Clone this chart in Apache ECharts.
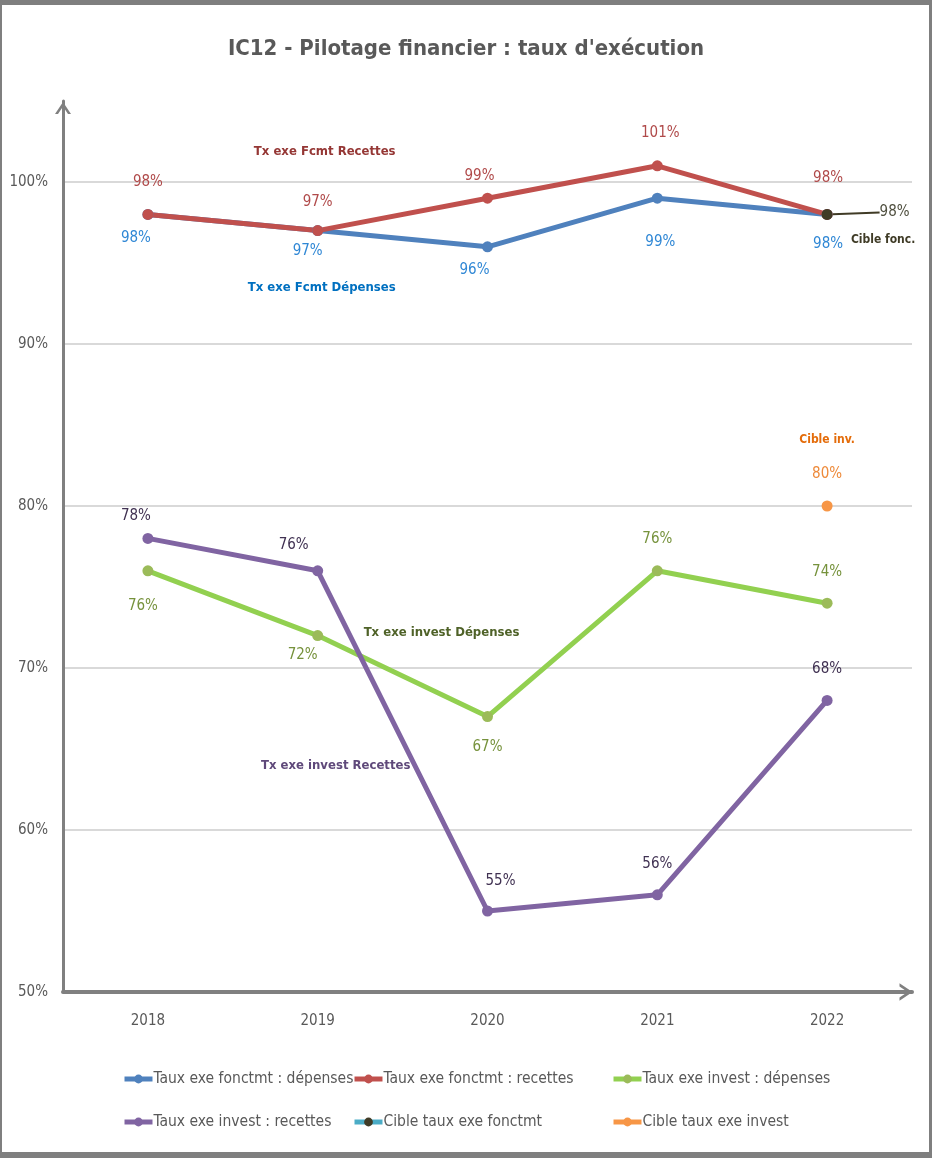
<!DOCTYPE html>
<html>
<head>
<meta charset="utf-8">
<script src="https://cdn.jsdelivr.net/npm/echarts@6/dist/echarts.min.js"></script>
<style>
  html, body { margin: 0; padding: 0; background: #fff; }
  #wrap { position: relative; width: 932px; height: 1158px; }
  #chart { position: absolute; left: 0; top: 0; width: 932px; height: 1158px; }
  #frame {
    position: absolute; left: 0; top: 0; width: 932px; height: 1158px;
    box-sizing: border-box; pointer-events: none;
    border-style: solid; border-color: #7f7f7f;
    border-width: 5px 3px 6px 2px;
  }
</style>
</head>
<body>
<div id="wrap">
  <div id="chart"></div>
  <div id="frame"></div>
</div>
<script>
const years = ['2018', '2019', '2020', '2021', '2022']
const fonctDepenses = [98, 97, 96, 99, 98]
const fonctRecettes = [98, 97, 99, 101, 98]
const investDepenses = [76, 72, 67, 76, 74]
const investRecettes = [78, 76, 55, 56, 68]
const cibleFonct = [null, null, null, null, 98]
const cibleInvest = [null, null, null, null, 80]
const yTicks = [50, 60, 70, 80, 90, 100]

const names = [
  'Taux exe fonctmt : dépenses',
  'Taux exe fonctmt : recettes',
  'Taux exe invest : dépenses',
  'Taux exe invest : recettes',
  'Cible taux exe fonctmt',
  'Cible taux exe invest'
]

const FONT = "'Liberation Sans Narrow', 'DejaVu Sans Condensed', sans-serif"

// label placement per point: [position, distance, x shift]
const labelPos = {
  fd: [['bottom', 11, -12], ['bottom', 8, -10], ['bottom', 10, -13], ['bottom', 31, 3], ['bottom', 17, 1]],
  fr: [['top', 19, 0], ['top', 15, 0], ['top', 9, -8], ['top', 20, 3], ['top', 23, 1]],
  id: [['bottom', 22, -5], ['bottom', 7, -15], ['bottom', 18, 0], ['top', 19, 0], ['top', 18, 0]],
  ir: [['top', 9, -12], ['top', 13, -24], ['top', 17, 13], ['top', 18, 0], ['top', 18, 0]]
}

function withLabels(values, pos) {
  return values.map((v, i) => ({
    value: v,
    label: { position: pos[i][0], distance: pos[i][1], offset: [pos[i][2], 0] }
  }))
}

function note(text, coord, color, dx, size) {
  return {
    name: text,
    coord: coord,
    label: { color: color, offset: [dx || 0, 0], fontSize: size || 13 }
  }
}

function notes(items) {
  return {
    symbolSize: 0,
    silent: true,
    label: {
      show: true, position: 'inside', formatter: '{b}',
      fontFamily: FONT, fontWeight: 'bold', fontSize: 13
    },
    data: items
  }
}

function lineSeries(name, data, lineColor, dotColor, labelColor, width) {
  return {
    name: name,
    type: 'line',
    data: data,
    symbol: 'circle',
    symbolSize: 11,
    connectNulls: false,
    lineStyle: { color: lineColor, width: width },
    itemStyle: { color: dotColor },
    label: {
      show: true,
      formatter: p => p.value == null ? '' : p.value + '%',
      color: labelColor,
      fontFamily: FONT,
      fontSize: 15
    },
    emphasis: { disabled: true }
  }
}

const chart = echarts.init(document.getElementById('chart'))

const sFd = lineSeries(names[0], withLabels(fonctDepenses, labelPos.fd), '#4f81bd', '#4f81bd', '#2f87d5', 5)
sFd.markPoint = notes([note('Tx exe Fcmt Dépenses', ['2019', 93.45], '#0070c0', 4)])

const sFr = lineSeries(names[1], withLabels(fonctRecettes, labelPos.fr), '#c0504d', '#c0504d', '#b04a4a', 5)
sFr.markPoint = notes([note('Tx exe Fcmt Recettes', ['2019', 101.85], '#953735', 7)])

const sId = lineSeries(names[2], withLabels(investDepenses, labelPos.id), '#92d050', '#9bbb59', '#76923c', 5)
sId.markPoint = notes([note('Tx exe invest Dépenses', ['2020', 72.2], '#4f6228', -46)])

const sIr = lineSeries(names[3], withLabels(investRecettes, labelPos.ir), '#8064a2', '#8064a2', '#403152', 5)
sIr.markPoint = notes([note('Tx exe invest Recettes', ['2019', 64.0], '#5f497a', 18)])

const sCf = lineSeries(names[4], cibleFonct, '#4bacc6', '#403b26', '#4f4f3f', 5)
sCf.label.position = 'right'
sCf.label.distance = 3
sCf.labelLayout = { dx: 44, dy: -2 }
sCf.labelLine = { show: true, lineStyle: { color: '#403b26', width: 2 } }
sCf.markPoint = notes([note('Cible fonc.', ['2022', 96.4], '#3f3b26', 56, 12)])

const sCi = lineSeries(names[5], cibleInvest, '#f79646', '#f79646', '#ee8a3a', 5)
sCi.label.position = 'top'
sCi.label.distance = 19
sCi.markPoint = notes([note('Cible inv.', ['2022', 84.1], '#e46c0a', 0, 12)])

const arrow = 'path://M0,12 L8,0 L16,12 L13,12 L8,4.5 L3,12 Z'

function legendCol(left, items) {
  return {
    orient: 'vertical',
    left: left,
    top: 1066,
    itemGap: 27,
    itemWidth: 28,
    itemHeight: 11,
    data: items,
    selectedMode: false,
    lineStyle: { width: 5 },
    textStyle: { color: '#595959', fontFamily: FONT, fontSize: 15.5, padding: [0, 0, 0, -4] }
  }
}

chart.setOption({
  animation: false,
  backgroundColor: '#ffffff',
  title: {
    text: "IC12 - Pilotage financier : taux d'exécution",
    left: 'center',
    top: 33,
    textStyle: { color: '#595959', fontFamily: FONT, fontWeight: 'bold', fontSize: 22 }
  },
  legend: [
    legendCol(117, [names[0], names[3]]),
    legendCol(347, [names[1], names[4]]),
    legendCol(606, [names[2], names[5]])
  ],
  grid: { left: 63, right: 20, top: 101, bottom: 166 },
  xAxis: {
    type: 'category',
    data: years,
    boundaryGap: true,
    axisLine: {
      lineStyle: { color: '#808080', width: 4 },
      symbol: ['none', arrow],
      symbolSize: [18, 13],
      symbolOffset: [0, -6]
    },
    axisTick: { show: false },
    axisLabel: { color: '#595959', fontFamily: FONT, fontSize: 15, margin: 22 }
  },
  yAxis: {
    type: 'value',
    min: yTicks[0],
    max: 105,
    interval: 10,
    axisLine: {
      show: true,
      lineStyle: { color: '#808080', width: 3 },
      symbol: ['none', arrow],
      symbolSize: [16, 13],
      symbolOffset: [0, -7]
    },
    axisTick: { show: false },
    axisLabel: {
      color: '#595959', fontFamily: FONT, fontSize: 15, margin: 15,
      formatter: v => yTicks.indexOf(v) >= 0 ? v + '%' : ''
    },
    splitLine: {
      lineStyle: {
        color: ['#d9d9d9', '#d9d9d9', '#d9d9d9', '#d9d9d9', '#d9d9d9', '#d9d9d9', 'rgba(0,0,0,0)'],
        width: 2
      }
    }
  },
  series: [sFd, sFr, sId, sIr, sCf, sCi]
})
</script>
</body>
</html>
